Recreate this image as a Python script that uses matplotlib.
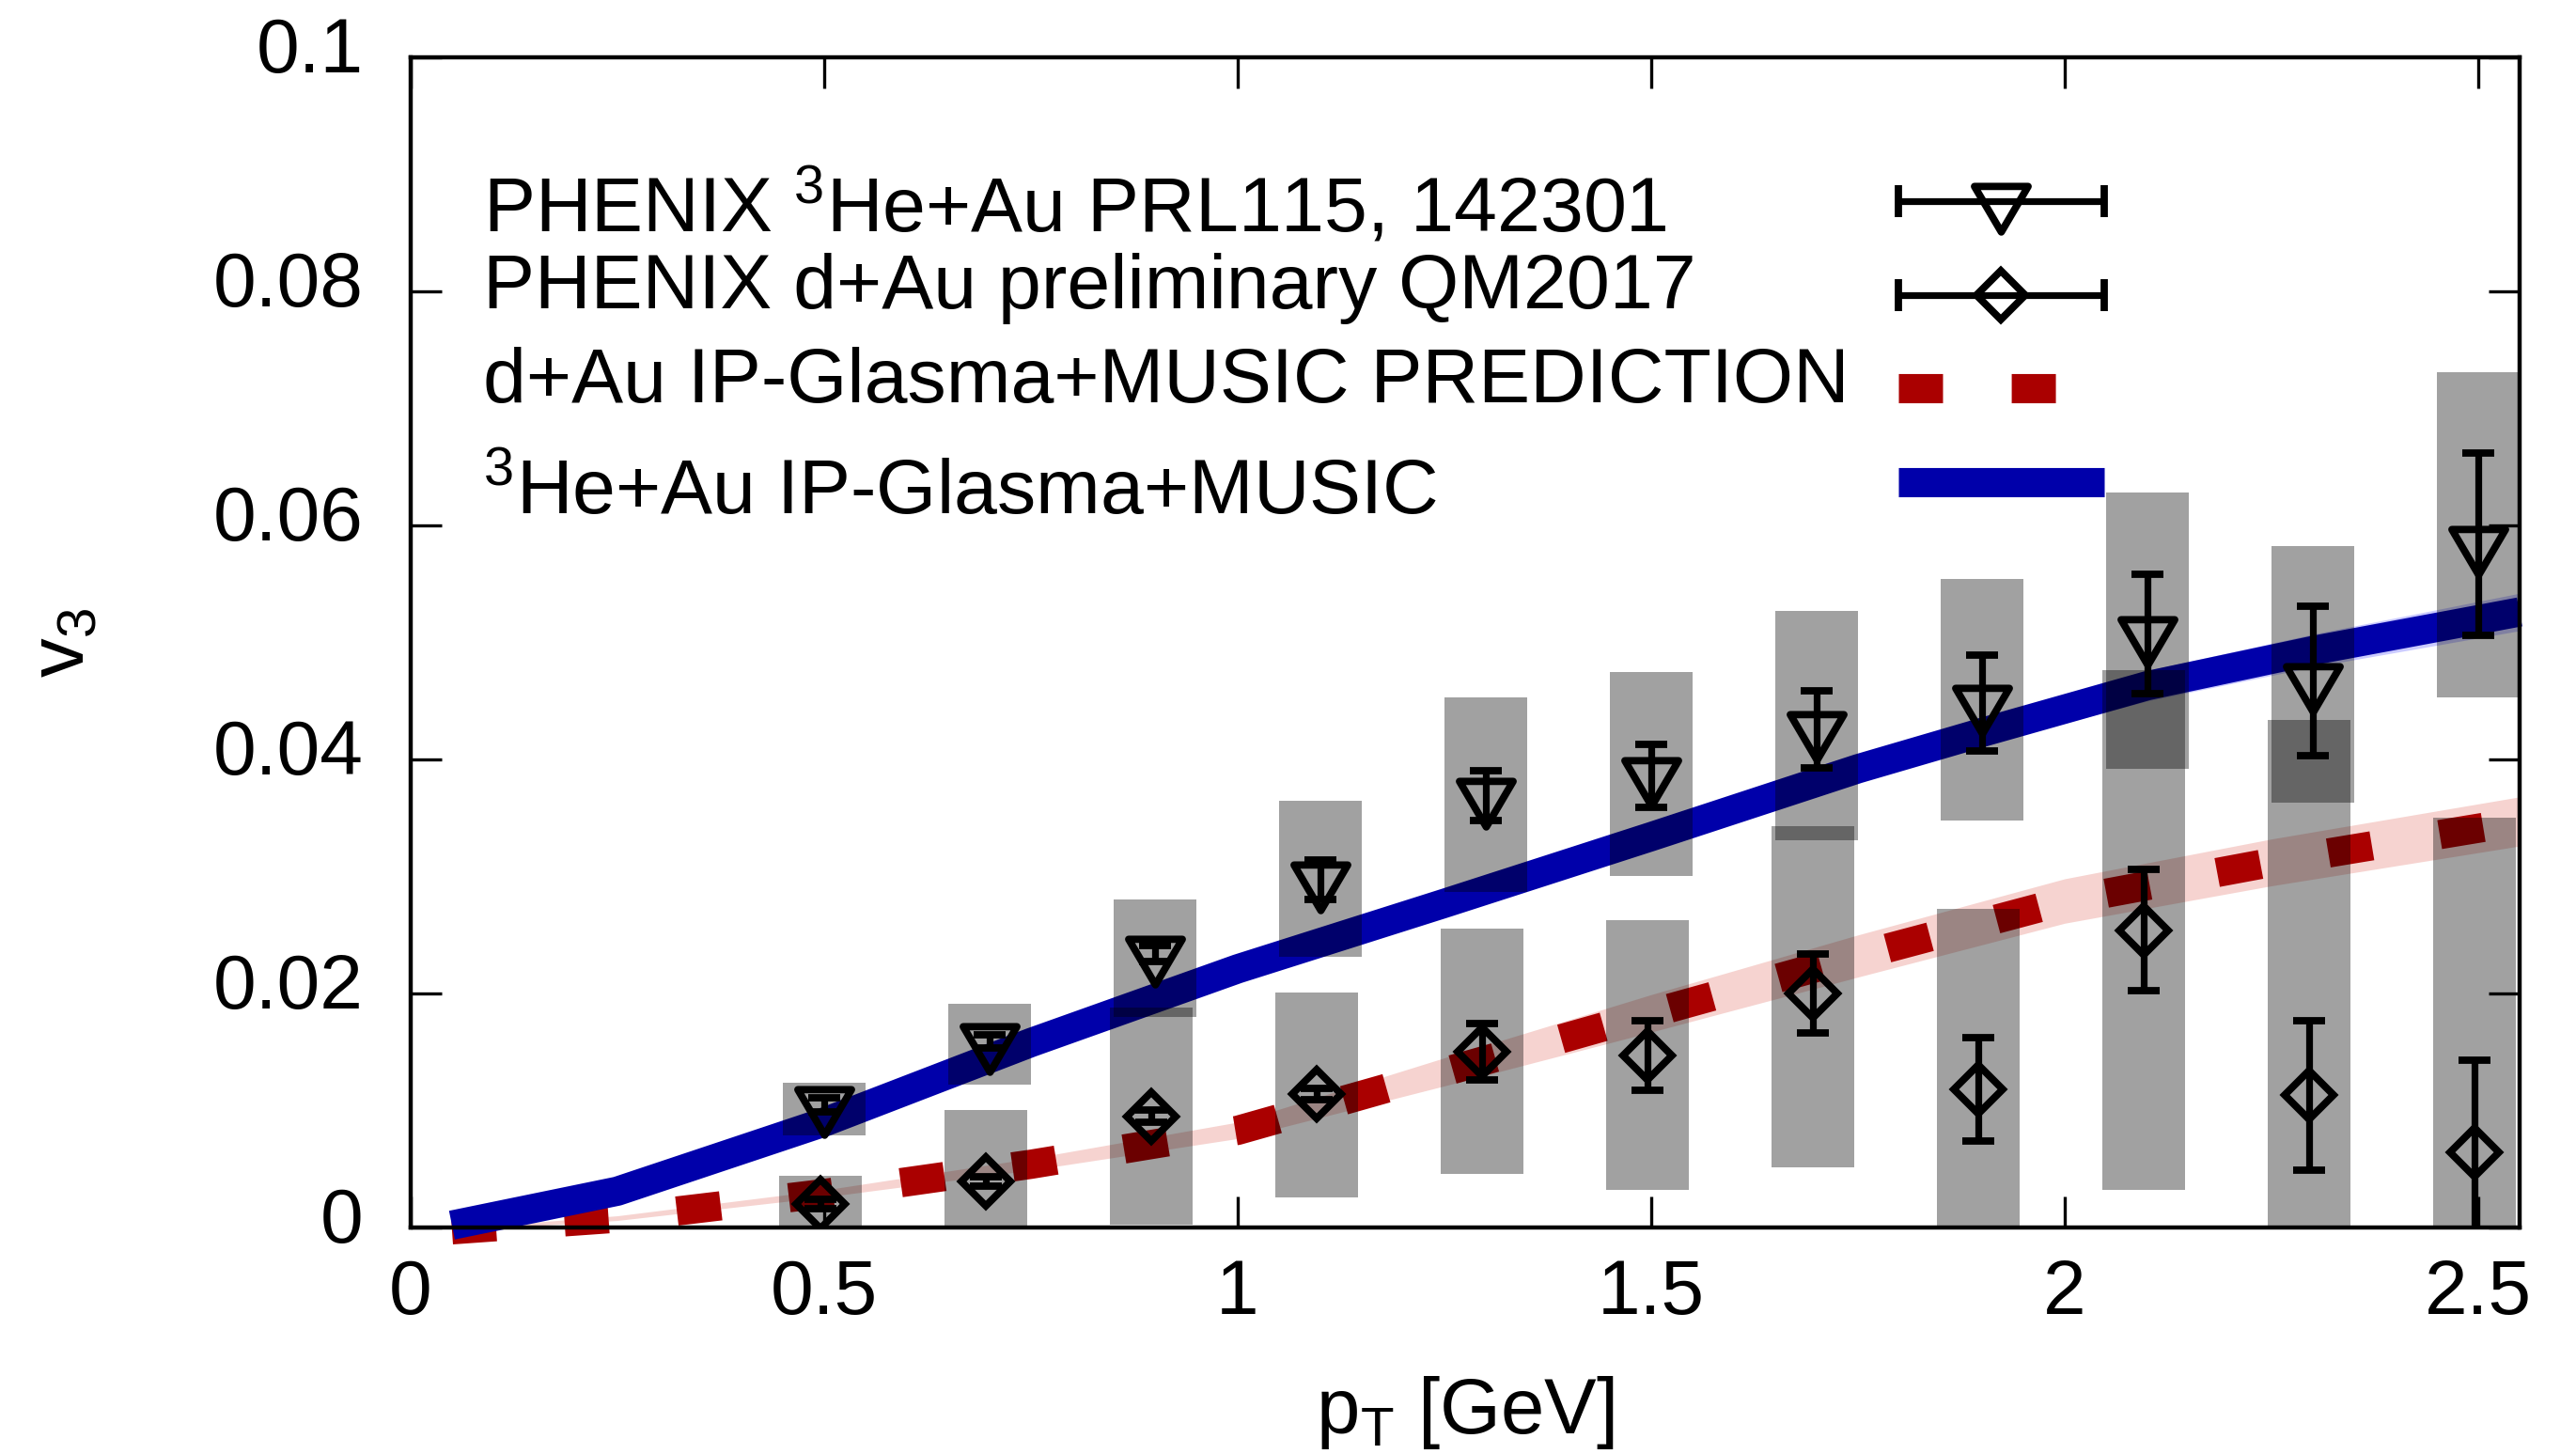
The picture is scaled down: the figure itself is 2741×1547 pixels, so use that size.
import matplotlib

matplotlib.use("Agg")

import matplotlib.pyplot as plt
import matplotlib.transforms as mtransforms
from matplotlib.path import Path

plt.rcParams["font.family"] = ["Liberation Sans", "DejaVu Sans"]
plt.rcParams["mathtext.default"] = "regular"

# =========================
# Data
# =========================
# PHENIX 3He+Au (open down triangles)
he_pt = [0.5, 0.7, 0.9, 1.1, 1.3, 1.5, 1.7, 1.9, 2.1, 2.3, 2.5]
he_v3 = [0.0105, 0.0159, 0.0234, 0.0297, 0.0369, 0.0386, 0.0426, 0.0448, 0.0507, 0.0467, 0.0584]
he_stat = [0.0006, 0.0006, 0.0007, 0.0017, 0.0021, 0.0027, 0.0033, 0.0041, 0.0051, 0.0064, 0.0078]
he_sys_lo = [0.0079, 0.0122, 0.0180, 0.0231, 0.0287, 0.0300, 0.0331, 0.0348, 0.0392, 0.0363, 0.0453]
he_sys_hi = [0.0124, 0.0191, 0.0280, 0.0365, 0.0453, 0.0475, 0.0527, 0.0554, 0.0628, 0.0582, 0.0731]

# PHENIX d+Au preliminary (open diamonds)
da_pt = [0.495, 0.695, 0.895, 1.095, 1.295, 1.495, 1.695, 1.895, 2.095, 2.295, 2.495]
da_v3 = [0.0020, 0.0039, 0.0095, 0.0114, 0.0150, 0.0147, 0.0200, 0.0118, 0.0254, 0.0113, 0.0064]
da_stat = [0.0004, 0.0004, 0.0005, 0.0005, 0.0024, 0.0030, 0.0034, 0.0044, 0.0052, 0.0064, 0.0079]
da_sys_lo = [-0.0004, -0.0022, 0.0002, 0.0026, 0.0046, 0.0032, 0.0051, -0.0036, 0.0032, -0.0208, -0.0222]
da_sys_hi = [0.0044, 0.0100, 0.0188, 0.0201, 0.0255, 0.0263, 0.0343, 0.0272, 0.0476, 0.0434, 0.0350]

# IP-Glasma+MUSIC curves
he_calc_pt = [0.05, 0.25, 0.5, 0.75, 1.0, 1.25, 1.5, 1.75, 1.9, 2.1, 2.3, 2.55]
he_calc = [0.0002, 0.0031, 0.0090, 0.0158, 0.0221, 0.0277, 0.0334, 0.0392, 0.0423, 0.0463, 0.0493, 0.0526]
he_calc_err = [0.0001, 0.0002, 0.0003, 0.0004, 0.0005, 0.0006, 0.0008, 0.0010, 0.0011, 0.0013, 0.0014, 0.0016]
da_calc_pt = [0.05, 0.25, 0.5, 0.75, 1.0, 1.25, 1.5, 1.75, 2.0, 2.25, 2.55]
da_calc = [-0.0002, 0.0008, 0.0029, 0.0054, 0.0083, 0.0133, 0.0183, 0.0232, 0.0279, 0.0312, 0.0347]
da_calc_err = [0.0001, 0.0002, 0.0003, 0.0005, 0.0007, 0.0012, 0.0016, 0.0018, 0.0019, 0.0020, 0.0021]

x_ticks = [0, 0.5, 1, 1.5, 2, 2.5]
x_tick_labels = ["0", "0.5", "1", "1.5", "2", "2.5"]
y_ticks = [0, 0.02, 0.04, 0.06, 0.08, 0.1]
y_tick_labels = ["0", "0.02", "0.04", "0.06", "0.08", "0.1"]

labels = [
    "PHENIX $^{3}$He+Au PRL115, 142301",
    "PHENIX d+Au preliminary QM2017",
    "d+Au IP-Glasma+MUSIC PREDICTION",
    "$^{3}$He+Au IP-Glasma+MUSIC",
]

# =========================
# Styles
# =========================
blue = "#0000aa"
red = "#aa0000"
lw_curve = 11.2
dash = (1.51, 2.35)
# inverted triangle with its centroid on the data point (gnuplot style)
tri_marker = Path(
    [(-0.5, 0.283), (0.5, 0.283), (0.0, -0.567), (-0.5, 0.283)],
    [Path.MOVETO, Path.LINETO, Path.LINETO, Path.CLOSEPOLY],
)
err_kw = dict(
    linestyle="none",
    mfc="none",
    mec="black",
    mew=2.8,
    ecolor="black",
    elinewidth=2.6,
    capsize=6,
    capthick=3.2,
)

fig = plt.figure(figsize=(13.705, 7.735), dpi=200)
ax = fig.add_axes([0.1594, 0.1558, 0.8187, 0.8048])

# theory bands and curves
ax.fill_between(da_calc_pt, [v - e for v, e in zip(da_calc, da_calc_err)],
                [v + e for v, e in zip(da_calc, da_calc_err)],
                color="#d63a2a", alpha=0.22, lw=0, zorder=1)
ax.fill_between(he_calc_pt, [v - e for v, e in zip(he_calc, he_calc_err)],
                [v + e for v, e in zip(he_calc, he_calc_err)],
                color="#3333ff", alpha=0.25, lw=0, zorder=1)
ax.plot(da_calc_pt, da_calc, color=red, lw=lw_curve, dashes=dash,
        dash_capstyle="butt", clip_on=False, zorder=2)
ax.plot(he_calc_pt, he_calc, color=blue, lw=lw_curve,
        solid_capstyle="butt", clip_on=False, zorder=2)

# systematic boxes
ax.bar(he_pt, [h - l for h, l in zip(he_sys_hi, he_sys_lo)], bottom=he_sys_lo,
       width=0.1, color="black", alpha=0.37, lw=0, zorder=3)
ax.bar(da_pt, [h - l for h, l in zip(da_sys_hi, da_sys_lo)], bottom=da_sys_lo,
       width=0.1, color="black", alpha=0.37, lw=0, zorder=3)

# data points
ax.errorbar(he_pt, he_v3, yerr=he_stat, marker=tri_marker, ms=23.3, zorder=4, **err_kw)
ax.errorbar(da_pt, da_v3, yerr=da_stat, marker="D", ms=13.2, zorder=4, **err_kw)

# =========================
# Key (drawn by hand, gnuplot-like spacing)
# =========================
text_x = 0.0343
text_y = [0.8506, 0.7855, 0.7052, 0.6096]
sample_y = [0.8771, 0.7968, 0.7173, 0.6369]
sample_x0, sample_x1 = 0.7054, 0.8030
sample_xc = 0.5 * (sample_x0 + sample_x1)
half = 0.5 * (sample_x1 - sample_x0)

for lab, ty in zip(labels, text_y):
    ax.text(text_x, ty, lab, transform=ax.transAxes, fontsize=29.7,
            ha="left", va="baseline", zorder=6)

ax.errorbar([sample_xc], [sample_y[0]], xerr=[half], marker=tri_marker, ms=23.3,
            transform=ax.transAxes, clip_on=False, zorder=6, **err_kw)
ax.errorbar([sample_xc], [sample_y[1]], xerr=[half], marker="D", ms=13.2,
            transform=ax.transAxes, clip_on=False, zorder=6, **err_kw)
ax.plot([sample_x0, sample_x1], [sample_y[2]] * 2, color=red, lw=lw_curve,
        dashes=dash, dash_capstyle="butt", transform=ax.transAxes, zorder=6)
ax.plot([sample_x0, sample_x1], [sample_y[3]] * 2, color=blue, lw=lw_curve,
        solid_capstyle="butt", transform=ax.transAxes, zorder=6)

# =========================
# Axes
# =========================
ax.set_xlim(0, 2.55)
ax.set_ylim(0, 0.1)
ax.set_xticks(x_ticks)
ax.set_xticklabels(x_tick_labels)
ax.set_yticks(y_ticks)
ax.set_yticklabels(y_tick_labels)
ax.tick_params(direction="in", length=12, width=1.2, top=True, right=True,
               labelsize=29.5, colors="black")
ax.tick_params(axis="x", pad=12)
ax.tick_params(axis="y", pad=18)
for sp in ax.spines.values():
    sp.set_linewidth(1.6)

# gnuplot puts y tick labels slightly above the tick
offset = mtransforms.ScaledTranslation(0, 5 / 72, fig.dpi_scale_trans)
for lab in ax.get_yticklabels():
    lab.set_transform(lab.get_transform() + offset)

ax.set_xlabel("p$_T$ [GeV]", fontsize=30)
ax.set_ylabel("v$_3$", fontsize=30)
ax.xaxis.set_label_coords(0.5, -0.125)
ax.yaxis.set_label_coords(-0.1475, 0.5)

fig.savefig("out.png", dpi=200)
plt.close(fig)
